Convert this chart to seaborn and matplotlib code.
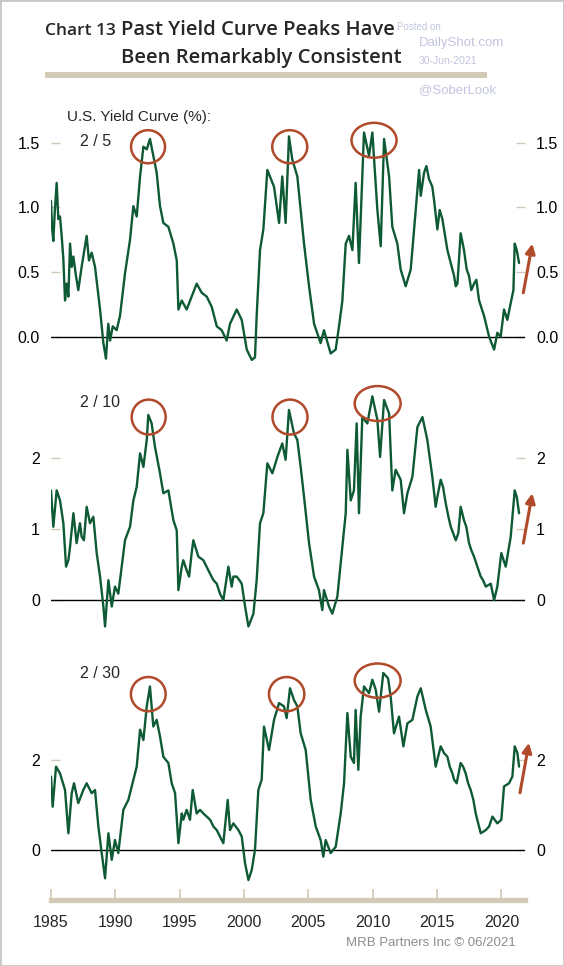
import numpy as np
import pandas as pd
import matplotlib.pyplot as plt
import seaborn as sns
from matplotlib.patches import Ellipse, Rectangle

# (year, spread %)
spread_2s5s = [
    (1985.00, 1.05), (1985.08, 0.85), (1985.18, 0.74), (1985.30, 0.98), (1985.44, 1.19), (1985.57, 0.91),
    (1985.70, 0.93), (1985.83, 0.78), (1985.96, 0.60), (1986.09, 0.28), (1986.22, 0.41), (1986.35, 0.31),
    (1986.48, 0.72), (1986.61, 0.54), (1986.74, 0.62), (1986.94, 0.47), (1987.12, 0.36), (1987.38, 0.54),
    (1987.56, 0.65), (1987.77, 0.78), (1987.95, 0.59), (1988.16, 0.65), (1988.42, 0.54), (1988.81, 0.21),
    (1989.07, -0.05), (1989.27, -0.17), (1989.45, 0.10), (1989.59, -0.03), (1989.80, 0.08), (1990.10, 0.05),
    (1990.36, 0.16), (1990.75, 0.49), (1991.14, 0.75), (1991.40, 1.01), (1991.66, 0.93), (1991.92, 1.24),
    (1992.18, 1.47), (1992.44, 1.45), (1992.69, 1.53), (1992.95, 1.40), (1993.21, 1.27), (1993.47, 1.01),
    (1993.73, 0.88), (1994.12, 0.85), (1994.51, 0.72), (1994.77, 0.59), (1994.90, 0.21), (1995.16, 0.28),
    (1995.54, 0.21), (1995.93, 0.31), (1996.32, 0.41), (1996.71, 0.34), (1997.10, 0.31), (1997.49, 0.23),
    (1997.88, 0.08), (1998.26, 0.05), (1998.65, -0.03), (1998.91, 0.10), (1999.43, 0.21), (1999.82, 0.13),
    (2000.21, -0.10), (2000.60, -0.18), (2000.85, -0.16), (2000.98, 0.16), (2001.24, 0.67), (2001.50, 0.83),
    (2001.81, 1.29), (2002.33, 1.16), (2002.72, 0.88), (2002.97, 1.24), (2003.23, 0.88), (2003.49, 1.55),
    (2003.75, 1.37), (2004.14, 1.24), (2004.40, 0.98), (2004.66, 0.72), (2005.05, 0.39), (2005.44, 0.10),
    (2005.95, -0.05), (2006.21, 0.05), (2006.73, -0.13), (2007.12, -0.10), (2007.38, 0.08), (2007.64, 0.28),
    (2007.90, 0.72), (2008.16, 0.78), (2008.42, 0.67), (2008.67, 1.19), (2008.93, 0.57), (2009.19, 1.24),
    (2009.32, 1.58), (2009.71, 1.40), (2009.97, 1.58), (2010.36, 0.98), (2010.62, 0.70), (2010.88, 1.53),
    (2011.27, 1.24), (2011.52, 0.85), (2011.91, 0.72), (2012.17, 0.52), (2012.56, 0.39), (2012.95, 0.52),
    (2013.34, 0.98), (2013.60, 1.29), (2013.73, 1.09), (2013.99, 1.27), (2014.17, 1.32), (2014.37, 1.22),
    (2014.63, 1.16), (2014.76, 1.06), (2015.02, 0.83), (2015.20, 0.98), (2015.41, 0.91), (2015.67, 0.75),
    (2015.80, 0.67), (2016.06, 0.57), (2016.32, 0.47), (2016.45, 0.39), (2016.58, 0.41), (2016.83, 0.80),
    (2017.09, 0.67), (2017.30, 0.52), (2017.48, 0.47), (2017.66, 0.36), (2017.87, 0.41), (2018.05, 0.44),
    (2018.26, 0.28), (2018.65, 0.16), (2019.04, 0.00), (2019.43, -0.10), (2019.68, 0.03), (2019.94, 0.00),
    (2020.20, 0.21), (2020.46, 0.13), (2020.72, 0.26), (2020.93, 0.36), (2021.03, 0.72), (2021.19, 0.67),
    (2021.37, 0.57),
]

spread_2s10s = [
    (1985.00, 1.54), (1985.18, 1.03), (1985.44, 1.54), (1985.70, 1.40), (1985.96, 1.08), (1986.17, 0.47),
    (1986.35, 0.56), (1986.48, 0.75), (1986.74, 1.22), (1986.99, 0.80), (1987.25, 1.08), (1987.38, 0.89),
    (1987.56, 0.84), (1987.77, 1.31), (1988.03, 1.08), (1988.29, 1.17), (1988.55, 0.66), (1988.81, 0.33),
    (1989.07, -0.09), (1989.20, -0.37), (1989.46, 0.28), (1989.72, -0.09), (1989.97, 0.19), (1990.23, 0.09),
    (1990.49, 0.47), (1990.75, 0.84), (1991.14, 1.03), (1991.40, 1.40), (1991.66, 1.59), (1991.92, 2.06),
    (1992.18, 1.87), (1992.44, 2.25), (1992.56, 2.60), (1992.82, 2.48), (1993.08, 2.15), (1993.47, 1.78),
    (1993.73, 1.50), (1994.12, 1.54), (1994.51, 1.12), (1994.77, 0.98), (1994.90, 0.14), (1995.16, 0.47),
    (1995.28, 0.56), (1995.54, 0.42), (1995.73, 0.33), (1995.93, 0.66), (1996.06, 0.84), (1996.45, 0.61),
    (1996.84, 0.56), (1997.36, 0.37), (1997.62, 0.28), (1997.88, 0.23), (1998.13, 0.09), (1998.39, 0.00),
    (1998.78, 0.47), (1999.04, 0.19), (1999.17, 0.33), (1999.43, 0.33), (1999.64, 0.28), (1999.82, 0.23),
    (2000.08, -0.09), (2000.34, -0.37), (2000.73, -0.19), (2000.98, 0.28), (2001.24, 1.08), (2001.50, 1.22),
    (2001.81, 1.92), (2002.20, 1.78), (2002.59, 2.01), (2002.97, 2.20), (2003.23, 1.97), (2003.49, 2.67),
    (2003.88, 2.34), (2004.14, 2.25), (2004.40, 1.87), (2004.66, 1.45), (2005.05, 0.80), (2005.44, 0.33),
    (2005.82, 0.14), (2006.08, -0.14), (2006.21, 0.14), (2006.60, -0.09), (2006.86, -0.19), (2007.25, 0.05),
    (2007.64, 0.75), (2007.90, 1.22), (2008.03, 2.11), (2008.29, 1.40), (2008.54, 1.54), (2008.75, 2.48),
    (2008.93, 1.22), (2009.19, 2.57), (2009.58, 2.48), (2009.97, 2.86), (2010.36, 2.53), (2010.57, 2.01),
    (2010.88, 2.81), (2011.27, 2.62), (2011.52, 1.54), (2011.78, 1.83), (2012.17, 1.69), (2012.43, 1.22),
    (2012.69, 1.50), (2013.08, 1.73), (2013.47, 2.43), (2013.86, 2.57), (2014.24, 2.25), (2014.63, 1.73),
    (2014.89, 1.31), (2015.02, 1.45), (2015.28, 1.69), (2015.46, 1.59), (2015.67, 1.36), (2015.88, 1.17),
    (2016.06, 1.03), (2016.45, 0.84), (2016.65, 0.94), (2016.83, 1.31), (2017.09, 1.12), (2017.27, 1.03),
    (2017.48, 0.80), (2017.66, 0.70), (2017.87, 0.61), (2018.13, 0.47), (2018.39, 0.33), (2018.57, 0.28),
    (2018.78, 0.19), (2019.17, 0.23), (2019.43, 0.00), (2019.68, 0.19), (2019.99, 0.66), (2020.33, 0.47),
    (2020.72, 0.89), (2021.03, 1.54), (2021.19, 1.45), (2021.37, 1.22),
]

spread_2s30s = [
    (1985.00, 1.63), (1985.13, 0.96), (1985.39, 1.85), (1985.70, 1.70), (1986.09, 1.33), (1986.35, 0.37),
    (1986.61, 1.26), (1986.79, 1.48), (1987.12, 1.04), (1987.51, 1.33), (1987.77, 1.48), (1988.16, 1.26),
    (1988.42, 1.33), (1988.68, 0.52), (1988.94, -0.07), (1989.20, -0.63), (1989.46, 0.37), (1989.72, -0.22),
    (1989.97, 0.22), (1990.23, -0.07), (1990.62, 0.89), (1991.01, 1.11), (1991.40, 1.56), (1991.66, 1.85),
    (1991.92, 2.67), (1992.18, 2.44), (1992.44, 3.19), (1992.69, 3.63), (1992.95, 2.74), (1993.21, 2.89),
    (1993.47, 2.52), (1993.73, 2.07), (1994.12, 1.93), (1994.38, 1.48), (1994.64, 1.26), (1994.90, 0.15),
    (1995.16, 0.81), (1995.28, 0.67), (1995.54, 0.89), (1995.80, 0.67), (1996.01, 1.33), (1996.32, 0.81),
    (1996.58, 0.89), (1996.84, 0.81), (1997.36, 0.67), (1997.62, 0.52), (1997.88, 0.44), (1998.13, 0.30),
    (1998.39, 0.15), (1998.73, 1.11), (1998.91, 0.44), (1999.17, 0.59), (1999.56, 0.44), (1999.82, 0.30),
    (2000.08, -0.30), (2000.34, -0.67), (2000.60, -0.44), (2000.85, 0.00), (2001.11, 1.33), (2001.37, 1.56),
    (2001.55, 2.74), (2001.94, 2.22), (2002.33, 2.89), (2002.72, 3.26), (2003.10, 3.19), (2003.31, 2.93),
    (2003.57, 3.59), (2003.88, 3.33), (2004.14, 3.19), (2004.40, 2.59), (2004.79, 2.22), (2005.18, 1.11),
    (2005.57, 0.52), (2005.95, 0.22), (2006.16, -0.15), (2006.34, 0.22), (2006.73, -0.07), (2007.12, 0.07),
    (2007.51, 0.81), (2007.77, 1.48), (2008.03, 3.04), (2008.29, 2.07), (2008.54, 1.93), (2008.67, 3.11),
    (2008.88, 1.78), (2009.06, 2.96), (2009.32, 3.63), (2009.71, 3.48), (2009.97, 3.78), (2010.23, 3.56),
    (2010.49, 3.07), (2010.82, 3.93), (2011.19, 3.81), (2011.39, 3.41), (2011.65, 2.59), (2012.04, 2.96),
    (2012.38, 2.30), (2012.69, 2.81), (2013.08, 2.89), (2013.47, 3.41), (2013.73, 3.59), (2014.12, 3.11),
    (2014.50, 2.74), (2014.89, 1.85), (2015.28, 2.30), (2015.54, 2.15), (2015.80, 2.07), (2015.98, 1.85),
    (2016.19, 1.70), (2016.32, 1.56), (2016.52, 1.48), (2016.83, 1.93), (2017.02, 1.85), (2017.22, 1.70),
    (2017.41, 1.48), (2017.61, 1.33), (2017.82, 1.11), (2018.00, 0.81), (2018.39, 0.37), (2018.78, 0.44),
    (2019.04, 0.52), (2019.30, 0.74), (2019.48, 0.67), (2019.68, 0.59), (2019.99, 0.67), (2020.20, 1.41),
    (2020.59, 1.48), (2020.85, 1.63), (2021.03, 2.30), (2021.24, 2.15), (2021.37, 1.85),
]

series_labels = ['2 / 5', '2 / 10', '2 / 30']
year_ticks = [1985, 1990, 1995, 2000, 2005, 2010, 2015, 2020]

GREEN = '#0d5a34'
RED = '#b04a2a'
BEIGE = '#d2cab6'
WM = '#c2c5df'

W, H = 564, 966
sns.set_theme(style='white')
plt.rcParams['font.family'] = ['Liberation Sans', 'DejaVu Sans']
fig = plt.figure(figsize=(W / 100, H / 100), dpi=100)
TITLE_FONT = ['Open Sans', 'DejaVu Sans']


def px_rect(top, bottom, left=51, right=525):
    return [left / W, 1 - bottom / H, (right - left) / W, (bottom - top) / H]


def ftext(x, y, s, **kw):
    fig.text(x / W, 1 - y / H, s, **kw)


panels = [
    dict(data=spread_2s5s, top=117, bottom=378, ylim=(-0.32, 1.70),
         yticks=[0.0, 0.5, 1.0, 1.5], fmt='{:.1f}',
         circles=[(1992.54, 1.47, 2.64, 0.256), (2003.55, 1.47, 2.72, 0.256), (2010.10, 1.52, 3.50, 0.27)],
         arrow=((2021.7, 0.34), (2022.4, 0.72)), label_y=142),
    dict(data=spread_2s10s, top=385, bottom=640, ylim=(-0.56, 3.02),
         yticks=[0, 1, 2], fmt='{:d}',
         circles=[(1992.59, 2.57, 2.64, 0.49), (2003.57, 2.57, 2.72, 0.49), (2010.38, 2.76, 3.57, 0.49)],
         arrow=((2021.7, 0.80), (2022.4, 1.50)), label_y=403),
    dict(data=spread_2s30s, top=650, bottom=890, ylim=(-0.89, 4.44),
         yticks=[0, 2], fmt='{:d}',
         circles=[(1992.56, 3.46, 2.70, 0.76), (2003.31, 3.46, 2.75, 0.76), (2010.38, 3.76, 3.57, 0.76)],
         arrow=((2021.44, 1.27), (2022.14, 2.38)), label_y=673),
]

for i, p in enumerate(panels):
    ax = fig.add_axes(px_rect(p['top'], p['bottom']))
    ax.set_facecolor('none')
    df = pd.DataFrame(p['data'], columns=['year', 'value'])
    sns.lineplot(data=df, x='year', y='value', ax=ax, color=GREEN, lw=1.7)
    ax.axhline(0, color='black', lw=1.0, zorder=1)
    ax.set_xlim(1985, 2021.83)
    ax.set_ylim(*p['ylim'])
    ax.set_xlabel('')
    ax.set_ylabel('')
    ax.set_yticks(p['yticks'])
    ax.set_yticklabels([p['fmt'].format(v) for v in p['yticks']])
    ax.tick_params(axis='y', direction='in', length=6.5, width=1.0, color=BEIGE,
                   left=True, right=True, labelleft=True, labelright=True,
                   pad=8, labelsize=11.5, labelcolor='black')
    for s in ax.spines.values():
        s.set_visible(False)
    for (cx, cy, w, h) in p['circles']:
        ax.add_patch(Ellipse((cx, cy), w, h, fill=False, ec=RED, lw=1.8, clip_on=False, zorder=5))
    tail, head = p['arrow']
    ax.annotate('', xy=head, xytext=tail, annotation_clip=False,
                arrowprops=dict(arrowstyle='-|>', color=RED, lw=2.2, mutation_scale=14,
                                shrinkA=0, shrinkB=0))
    ftext(80, p['label_y'], series_labels[i], fontsize=11.5, va='center', ha='left')

    if i < 2:
        ax.set_xticks([])
    else:
        ax.set_xticks(year_ticks)
        ax.spines['bottom'].set_visible(True)
        ax.spines['bottom'].set_position(('outward', 7))
        ax.spines['bottom'].set_color(BEIGE)
        ax.spines['bottom'].set_linewidth(3.8)
        ax.tick_params(axis='x', direction='in', length=8, width=1.2, color=BEIGE,
                       bottom=True, pad=11, labelsize=11.5)

# header
ftext(45, 35, 'Chart 13', fontsize=12.5, fontweight='semibold', va='baseline', ha='left', family=TITLE_FONT)
ftext(121, 35, 'Past Yield Curve Peaks Have', fontsize=14.6, fontweight='semibold', va='baseline', ha='left',
      family=TITLE_FONT)
ftext(121, 63, 'Been Remarkably Consistent', fontsize=14.6, fontweight='semibold', va='baseline', ha='left',
      family=TITLE_FONT)
fig.patches.append(Rectangle((45 / W, 1 - 78 / H), 442 / W, 6 / H, transform=fig.transFigure,
                             fc=BEIGE, ec='none'))

# watermark
ftext(397, 27, 'Posted on', fontsize=7, color=WM, va='center', ha='left')
ftext(419, 43, 'DailyShot.com', fontsize=9.5, color=WM, va='center', ha='left')
ftext(419, 61, '30-Jun-2021', fontsize=7.5, color=WM, va='center', ha='left')
ftext(419, 90, '@SoberLook', fontsize=9.5, color=WM, va='center', ha='left')

ftext(67, 117, 'U.S. Yield Curve (%):', fontsize=11, va='center', ha='left')
ftext(516, 943, 'MRB Partners Inc \u00a9 06/2021', fontsize=9.5, color='#8c8c8c', va='center', ha='right')

fig.patches.append(Rectangle((0, 0), 1, 1, transform=fig.transFigure, fill=False, ec='#c8c8c8', lw=2))

fig.savefig('out.png', dpi=100, facecolor='white')
